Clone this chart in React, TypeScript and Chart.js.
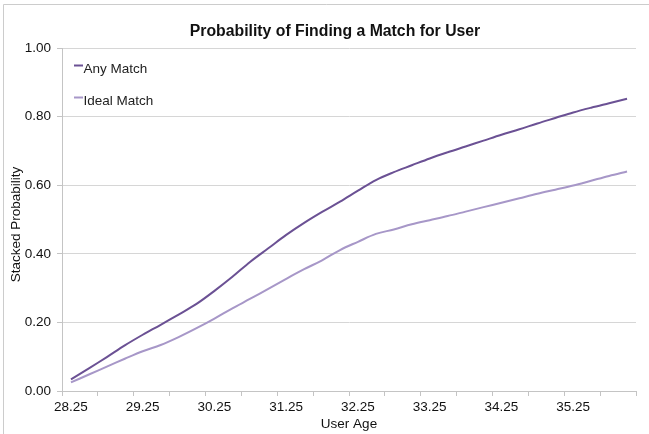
import React, { useEffect, useRef } from "react";
import { Chart, registerables } from "chart.js";

Chart.register(...registerables);

const chartTitle = "Probability of Finding a Match for User";
const xAxisTitle = "User Age";
const yAxisTitle = "Stacked Probability";

const ages = [
  "28.25", "28.50", "28.75", "29.00",
  "29.25", "29.50", "29.75", "30.00",
  "30.25", "30.50", "30.75", "31.00",
  "31.25", "31.50", "31.75", "32.00",
  "32.25", "32.50", "32.75", "33.00",
  "33.25", "33.50", "33.75", "34.00",
  "34.25", "34.50", "34.75", "35.00",
  "35.25", "35.50", "35.75", "36.00",
];

const anyMatch = [
  0.034, 0.066, 0.099, 0.133, 0.164, 0.193, 0.223, 0.254,
  0.292, 0.333, 0.377, 0.416, 0.455, 0.490, 0.522, 0.552,
  0.584, 0.615, 0.638, 0.658, 0.678, 0.696, 0.713, 0.730,
  0.747, 0.763, 0.780, 0.796, 0.812, 0.826, 0.839, 0.852,
];

const idealMatch = [
  0.025, 0.048, 0.071, 0.094, 0.116, 0.134, 0.157, 0.183,
  0.211, 0.241, 0.269, 0.298, 0.327, 0.355, 0.381, 0.411,
  0.435, 0.458, 0.471, 0.486, 0.498, 0.510, 0.523, 0.536,
  0.549, 0.562, 0.575, 0.587, 0.599, 0.613, 0.627, 0.640,
];

const seriesNames = ["Any Match", "Ideal Match"];
const seriesColors = ["#6b5194", "#a797c8"];

const FONT = "'Liberation Sans', Arial, Helvetica, sans-serif";
const GRID = "#d6d6d6";
const AXIS = "#c4c4c4";

const decorPlugin = {
  id: "decor",
  beforeDraw(chart: any) {
    const { ctx, width, height } = chart;
    ctx.save();
    ctx.fillStyle = "#ffffff";
    ctx.fillRect(0, 0, width, height);
    ctx.strokeStyle = "#cccccc";
    ctx.lineWidth = 1;
    ctx.beginPath();
    ctx.moveTo(3.5, height);
    ctx.lineTo(3.5, 4.5);
    ctx.lineTo(width, 4.5);
    ctx.stroke();
    ctx.restore();
  },
  afterDraw(chart: any) {
    const { ctx, chartArea } = chart;
    ctx.save();
    // chart title
    ctx.fillStyle = "#111111";
    ctx.font = `bold 15.8px ${FONT}`;
    ctx.textAlign = "center";
    ctx.textBaseline = "middle";
    ctx.fillText(chartTitle, 335, 32);
    // axis titles
    ctx.font = `13.5px ${FONT}`;
    ctx.fillText(xAxisTitle, (chartArea.left + chartArea.right) / 2, 424);
    ctx.save();
    ctx.translate(16, (chartArea.top + chartArea.bottom) / 2 + 5);
    ctx.rotate(-Math.PI / 2);
    ctx.fillText(yAxisTitle, 0, 0);
    ctx.restore();
    // legend inside chart area
    ctx.font = `13.5px ${FONT}`;
    ctx.textAlign = "left";
    chart.data.datasets.forEach((ds: any, i: number) => {
      const y = chartArea.top + 20 + i * 32;
      const x = chartArea.left + 12;
      ctx.strokeStyle = ds.borderColor;
      ctx.lineWidth = 2;
      ctx.beginPath();
      ctx.moveTo(x, y - 2.5);
      ctx.lineTo(x + 9, y - 2.5);
      ctx.stroke();
      ctx.fillStyle = "#222222";
      ctx.fillText(ds.label, x + 9.5, y + 1);
    });
    ctx.restore();
  },
};

export default function App() {
  const canvasRef = useRef<HTMLCanvasElement | null>(null);

  useEffect(() => {
    if (!canvasRef.current) return;
    const chart = new Chart(canvasRef.current, {
      type: "line",
      data: {
        labels: ages,
        datasets: [
          {
            label: seriesNames[0],
            data: anyMatch,
            borderColor: seriesColors[0],
            backgroundColor: seriesColors[0],
            borderWidth: 2,
            pointRadius: 0,
            tension: 0.35,
            fill: false,
          },
          {
            label: seriesNames[1],
            data: idealMatch,
            borderColor: seriesColors[1],
            backgroundColor: seriesColors[1],
            borderWidth: 2,
            pointRadius: 0,
            tension: 0.35,
            fill: false,
          },
        ],
      },
      plugins: [decorPlugin],
      options: {
        animation: false,
        responsive: false,
        maintainAspectRatio: false,
        devicePixelRatio: 1,
        layout: { padding: { top: 48, right: 13, left: 0, bottom: 0 } },
        plugins: {
          legend: { display: false },
          title: { display: false },
          tooltip: { enabled: false },
        },
        scales: {
          x: {
            type: "category",
            offset: true,
            afterFit(scale: any) {
              scale.height = 43;
            },
            grid: {
              offset: true,
              drawOnChartArea: false,
              drawTicks: true,
              tickLength: 5,
              tickColor: (ctx: any) =>
                ctx.index === undefined || ctx.index % 2 === 0 ? AXIS : "rgba(0,0,0,0)",
            },
            border: { display: true, color: AXIS, width: 1 },
            ticks: {
              autoSkip: false,
              maxRotation: 0,
              minRotation: 0,
              padding: 3,
              color: "#111111",
              font: { family: FONT, size: 13.5 },
              callback: function (this: any, value: any, index: number) {
                return index % 4 === 0 ? this.getLabelForValue(value) : "";
              },
            },
            title: { display: false },
          },
          y: {
            min: 0,
            max: 1,
            afterFit(scale: any) {
              scale.width = 62;
            },
            grid: {
              color: GRID,
              lineWidth: 1,
              drawTicks: true,
              tickLength: 5,
              tickColor: AXIS,
            },
            border: { display: true, color: AXIS, width: 1 },
            ticks: {
              stepSize: 0.2,
              padding: 6,
              color: "#111111",
              font: { family: FONT, size: 13.5 },
              callback: (v: any) => Number(v).toFixed(2),
            },
            title: { display: false },
          },
        },
      },
    });
    return () => chart.destroy();
  }, []);

  return (
    <div style={{ position: "fixed", left: 0, top: 0, width: 649, height: 434, background: "#fff" }}>
      <canvas ref={canvasRef} width={649} height={434} style={{ width: 649, height: 434, display: "block" }} />
    </div>
  );
}
